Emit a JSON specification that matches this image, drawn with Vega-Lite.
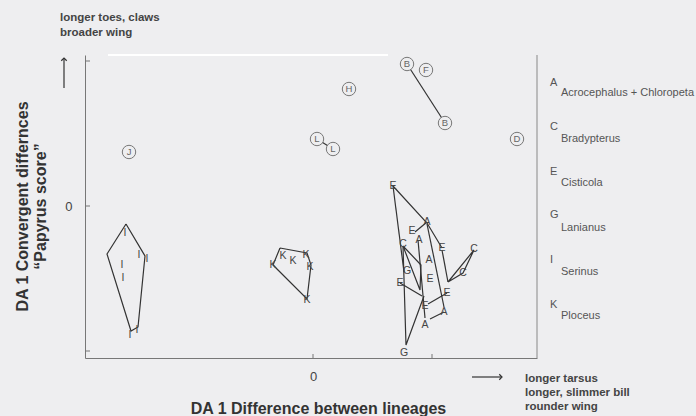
{
  "$schema": "https://vega.github.io/schema/vega-lite/v6.json",
  "width": 452,
  "height": 303,
  "padding": {"left": 85, "top": 55, "right": 159, "bottom": 58},
  "autosize": {"type": "none"},
  "background": "#eeeef0",
  "view": {"stroke": null},
  "config": {
    "font": "Liberation Sans",
    "axis": {"domainColor": "#777", "domainWidth": 1, "grid": false, "ticks": false, "labelColor": "#444", "labelFontSize": 13, "titleColor": "#333", "titleFontSize": 16, "titleFontWeight": "bold"}
  },
  "datasets": {
    "lines": [
      {"g": "I", "o": 1, "x": -3.74, "y": -0.36},
      {"g": "I", "o": 2, "x": -3.36, "y": -1.0},
      {"g": "I", "o": 3, "x": -3.5, "y": -2.42},
      {"g": "I", "o": 4, "x": -3.64, "y": -2.5},
      {"g": "I", "o": 5, "x": -4.12, "y": -0.96},
      {"g": "I", "o": 6, "x": -3.74, "y": -0.36},
      {"g": "K", "o": 1, "x": -0.66, "y": -0.84},
      {"g": "K", "o": 2, "x": -0.12, "y": -0.94},
      {"g": "K", "o": 3, "x": -0.04, "y": -1.18},
      {"g": "K", "o": 4, "x": -0.12, "y": -1.86},
      {"g": "K", "o": 5, "x": -0.8, "y": -1.18},
      {"g": "K", "o": 6, "x": -0.66, "y": -0.84},
      {"g": "R1", "o": 1, "x": 1.6, "y": 0.4},
      {"g": "R1", "o": 2, "x": 2.28, "y": -0.34},
      {"g": "R1", "o": 3, "x": 2.58, "y": -0.84},
      {"g": "R2", "o": 1, "x": 1.6, "y": 0.4},
      {"g": "R2", "o": 2, "x": 1.82, "y": -1.32},
      {"g": "R3", "o": 1, "x": 1.8, "y": -0.8},
      {"g": "R3", "o": 2, "x": 1.86, "y": -2.78},
      {"g": "R3", "o": 3, "x": 2.22, "y": -1.8},
      {"g": "R4", "o": 1, "x": 2.04, "y": -0.52},
      {"g": "R4", "o": 2, "x": 2.28, "y": -0.32},
      {"g": "R5", "o": 1, "x": 2.1, "y": -0.68},
      {"g": "R5", "o": 2, "x": 2.24, "y": -2.24},
      {"g": "R6", "o": 1, "x": 2.28, "y": -0.36},
      {"g": "R6", "o": 2, "x": 2.62, "y": -2.02},
      {"g": "R7", "o": 1, "x": 2.58, "y": -0.88},
      {"g": "R7", "o": 2, "x": 2.7, "y": -1.52},
      {"g": "R8", "o": 1, "x": 2.7, "y": -1.52},
      {"g": "R8", "o": 2, "x": 3.22, "y": -0.88},
      {"g": "R8", "o": 3, "x": 3.0, "y": -1.34},
      {"g": "R8", "o": 4, "x": 2.7, "y": -1.52},
      {"g": "R9", "o": 1, "x": 2.68, "y": -1.74},
      {"g": "R9", "o": 2, "x": 2.3, "y": -1.96},
      {"g": "R10", "o": 1, "x": 2.62, "y": -2.12},
      {"g": "R10", "o": 2, "x": 2.34, "y": -2.26},
      {"g": "R11", "o": 1, "x": 1.74, "y": -1.54},
      {"g": "R11", "o": 2, "x": 2.18, "y": -1.8},
      {"g": "R12", "o": 1, "x": 1.8, "y": -0.8},
      {"g": "R12", "o": 2, "x": 2.16, "y": -1.18},
      {"g": "R12", "o": 3, "x": 2.14, "y": -1.68},
      {"g": "R12", "o": 4, "x": 1.8, "y": -0.8},
      {"g": "L", "o": 1, "x": 0.08, "y": 1.34},
      {"g": "L", "o": 2, "x": 0.4, "y": 1.14},
      {"g": "B", "o": 1, "x": 1.88, "y": 2.84},
      {"g": "B", "o": 2, "x": 2.64, "y": 1.66}
    ],
    "letters": [
      {"t": "I", "x": -3.76, "y": -0.54},
      {"t": "I", "x": -3.48, "y": -0.98},
      {"t": "I", "x": -3.32, "y": -1.06},
      {"t": "I", "x": -3.82, "y": -1.18},
      {"t": "I", "x": -3.8, "y": -1.44},
      {"t": "I", "x": -3.66, "y": -2.58},
      {"t": "I", "x": -3.52, "y": -2.48},
      {"t": "K", "x": -0.8, "y": -1.18},
      {"t": "K", "x": -0.6, "y": -1.0},
      {"t": "K", "x": -0.4, "y": -1.1},
      {"t": "K", "x": -0.14, "y": -0.98},
      {"t": "K", "x": -0.06, "y": -1.22},
      {"t": "K", "x": -0.12, "y": -1.88},
      {"t": "E", "x": 1.6, "y": 0.4},
      {"t": "A", "x": 2.28, "y": -0.32},
      {"t": "E", "x": 1.98, "y": -0.5},
      {"t": "A", "x": 2.12, "y": -0.68},
      {"t": "E", "x": 2.58, "y": -0.84},
      {"t": "C", "x": 3.22, "y": -0.86},
      {"t": "C", "x": 3.0, "y": -1.34},
      {"t": "C", "x": 1.8, "y": -0.76},
      {"t": "A", "x": 2.32, "y": -1.08},
      {"t": "G", "x": 1.88, "y": -1.3},
      {"t": "E", "x": 2.34, "y": -1.46},
      {"t": "E", "x": 1.74, "y": -1.54},
      {"t": "E", "x": 2.68, "y": -1.74},
      {"t": "E", "x": 2.24, "y": -2.0},
      {"t": "A", "x": 2.62, "y": -2.12},
      {"t": "A", "x": 2.24, "y": -2.38},
      {"t": "G", "x": 1.82, "y": -2.94}
    ],
    "circles": [
      {"t": "J", "x": -3.68, "y": 1.08},
      {"t": "L", "x": 0.08, "y": 1.34},
      {"t": "L", "x": 0.4, "y": 1.14},
      {"t": "H", "x": 0.72, "y": 2.34},
      {"t": "B", "x": 1.88, "y": 2.84},
      {"t": "F", "x": 2.26, "y": 2.72},
      {"t": "B", "x": 2.64, "y": 1.66},
      {"t": "D", "x": 4.08, "y": 1.34}
    ],
    "legend": [
      {"t": "A", "x": 4.74, "y": 2.46},
      {"t": "C", "x": 4.74, "y": 1.58},
      {"t": "E", "x": 4.74, "y": 0.68},
      {"t": "G", "x": 4.74, "y": -0.18},
      {"t": "I", "x": 4.74, "y": -1.08},
      {"t": "K", "x": 4.74, "y": -1.98},
      {"t": "Acrocephalus + Chloropeta", "x": 4.96, "y": 2.26},
      {"t": "Bradypterus", "x": 4.96, "y": 1.34},
      {"t": "Cisticola", "x": 4.96, "y": 0.46},
      {"t": "Lanianus", "x": 4.96, "y": -0.44},
      {"t": "Serinus", "x": 4.96, "y": -1.32},
      {"t": "Ploceus", "x": 4.96, "y": -2.2}
    ],
    "notes": [
      {"t": "longer toes, claws", "x": -5.06, "y": 3.76},
      {"t": "broader wing", "x": -5.06, "y": 3.46},
      {"t": "longer tarsus", "x": 4.24, "y": -3.46},
      {"t": "longer, slimmer bill", "x": 4.24, "y": -3.74},
      {"t": "rounder wing", "x": 4.24, "y": -4.02}
    ],
    "arrows": [
      {"x": -4.98, "y": 2.36, "x2": -4.98, "y2": 2.96},
      {"x": 3.18, "y": -3.42, "x2": 3.76, "y2": -3.42}
    ],
    "heads": [
      {"x": -4.98, "y": 2.96, "dir": "up"},
      {"x": 3.78, "y": -3.42, "dir": "right"}
    ],
    "frame": [
      {"x": 4.48, "y": -3.04, "x2": 4.48, "y2": 3.02}
    ],
    "topline": [
      {"x": -4.1, "y": 3.02, "x2": 1.5, "y2": 3.02}
    ],
    "ticks": [
      {"x": -4.56, "y": 0, "x2": -4.46, "y2": 0},
      {"x": -4.56, "y": 2.9, "x2": -4.46, "y2": 2.9},
      {"x": -4.56, "y": -2.9, "x2": -4.46, "y2": -2.9},
      {"x": 0, "y": -3.04, "x2": 0, "y2": -2.96},
      {"x": 2.38, "y": -3.04, "x2": 2.38, "y2": -2.96}
    ]
  },
  "encoding": {
    "x": {"field": "x", "type": "quantitative", "scale": {"domain": [-4.56, 4.48], "nice": false, "zero": false},
      "axis": {"values": [0], "title": "DA 1 Difference between lineages", "labelPadding": 12, "titleX": 233, "titleY": 55, "titleBaseline": "alphabetic", "titleAnchor": null}},
    "y": {"field": "y", "type": "quantitative", "scale": {"domain": [-3.04, 3.02], "nice": false, "zero": false},
      "axis": {"values": [0], "title": ["DA 1 Convergent differnces", "“Papyrus score”"], "labelPadding": 13, "titleX": -58, "titleY": 151, "titleBaseline": "alphabetic", "titleLineHeight": 18}}
  },
  "layer": [
    {"data": {"name": "frame"}, "mark": {"type": "rule", "color": "#888", "strokeWidth": 1},
      "encoding": {"x2": {"field": "x2"}, "y2": {"field": "y2"}}},
    {"data": {"name": "topline"}, "mark": {"type": "rule", "color": "#ffffff", "strokeWidth": 2},
      "encoding": {"x2": {"field": "x2"}, "y2": {"field": "y2"}}},
    {"data": {"name": "ticks"}, "mark": {"type": "rule", "color": "#777", "strokeWidth": 1},
      "encoding": {"x2": {"field": "x2"}, "y2": {"field": "y2"}}},
    {"data": {"name": "lines"}, "mark": {"type": "line", "color": "#333", "strokeWidth": 1.2},
      "encoding": {"detail": {"field": "g"}, "order": {"field": "o", "type": "quantitative"}}},
    {"data": {"name": "letters"}, "mark": {"type": "text", "fontSize": 10.5, "color": "#444", "baseline": "middle"},
      "encoding": {"text": {"field": "t"}}},
    {"data": {"name": "circles"}, "mark": {"type": "point", "shape": "circle", "size": 180, "filled": false, "stroke": "#777", "strokeWidth": 1, "fill": "#eeeef0", "fillOpacity": 1, "opacity": 1}},
    {"data": {"name": "circles"}, "mark": {"type": "text", "fontSize": 9.5, "color": "#666", "baseline": "middle"},
      "encoding": {"text": {"field": "t"}}},
    {"data": {"name": "legend"}, "mark": {"type": "text", "fontSize": 11, "color": "#555", "align": "left", "baseline": "middle"},
      "encoding": {"text": {"field": "t"}}},
    {"data": {"name": "notes"}, "mark": {"type": "text", "fontSize": 11.5, "fontWeight": "bold", "color": "#444", "align": "left", "baseline": "middle"},
      "encoding": {"text": {"field": "t"}}},
    {"data": {"name": "arrows"}, "mark": {"type": "rule", "color": "#333", "strokeWidth": 1.2},
      "encoding": {"x2": {"field": "x2"}, "y2": {"field": "y2"}}},
    {"data": {"name": "heads"}, "transform": [{"filter": "datum.dir === 'up'"}], "mark": {"type": "point", "shape": "M-1,1L0,0L1,1", "size": 30, "filled": false, "stroke": "#333", "strokeWidth": 1.2, "opacity": 1}},
    {"data": {"name": "heads"}, "transform": [{"filter": "datum.dir === 'right'"}], "mark": {"type": "point", "shape": "M-1,-1L0,0L-1,1", "size": 30, "filled": false, "stroke": "#333", "strokeWidth": 1.2, "opacity": 1}}
  ]
}
